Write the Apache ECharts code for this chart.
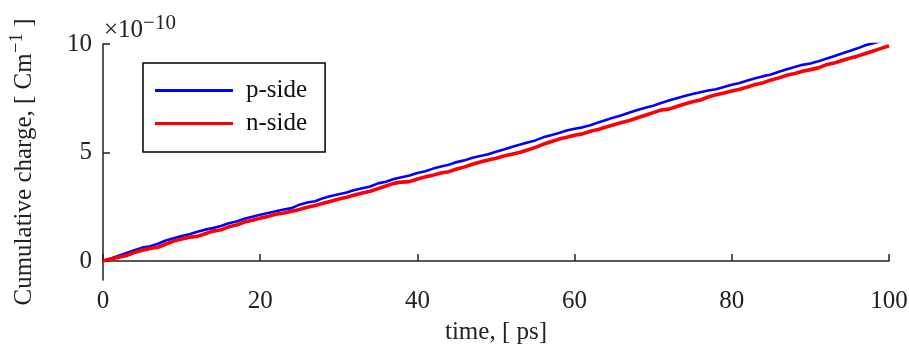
<!DOCTYPE html>
<html>
<head>
<meta charset="utf-8">
<script src="https://cdn.jsdelivr.net/npm/echarts@6/dist/echarts.min.js"></script>
<style>
html,body{margin:0;padding:0;background:#fff;}
#chart{width:909px;height:354px;}
</style>
</head>
<body>
<div id="chart"></div>
<script>
// time in ps
var times = [0,1,2,3,4,5,6,7,8,9,10,11,12,13,14,15,16,17,18,19,20,21,22,23,24,25,26,27,28,29,30,31,32,33,34,35,36,37,38,39,40,41,42,43,44,45,46,47,48,49,50,51,52,53,54,55,56,57,58,59,60,61,62,63,64,65,66,67,68,69,70,71,72,73,74,75,76,77,78,79,80,81,82,83,84,85,86,87,88,89,90,91,92,93,94,95,96,97,98,99,100];
// cumulative charge, units of 1e-10 C/m
var pSide = [0.02,0.12,0.25,0.38,0.50,0.62,0.68,0.80,0.95,1.05,1.16,1.24,1.35,1.45,1.52,1.62,1.74,1.82,1.95,2.04,2.14,2.22,2.30,2.38,2.44,2.60,2.70,2.76,2.90,3.00,3.08,3.16,3.28,3.36,3.44,3.58,3.66,3.78,3.86,3.94,4.06,4.14,4.26,4.36,4.44,4.56,4.64,4.76,4.84,4.92,5.04,5.14,5.26,5.36,5.46,5.56,5.70,5.80,5.90,6.02,6.10,6.16,6.26,6.38,6.50,6.62,6.72,6.84,6.96,7.06,7.16,7.28,7.40,7.50,7.60,7.70,7.78,7.86,7.92,8.02,8.12,8.20,8.32,8.42,8.52,8.60,8.72,8.84,8.94,9.04,9.10,9.20,9.32,9.44,9.56,9.68,9.80,9.94,10.04,10.14,10.24];
var nSide = [0.00,0.10,0.18,0.26,0.40,0.50,0.58,0.64,0.78,0.92,1.02,1.10,1.14,1.26,1.38,1.44,1.58,1.66,1.80,1.88,1.98,2.06,2.16,2.22,2.30,2.38,2.48,2.56,2.66,2.76,2.86,2.94,3.04,3.14,3.22,3.34,3.46,3.58,3.64,3.66,3.78,3.88,3.96,4.06,4.12,4.24,4.34,4.46,4.56,4.66,4.74,4.84,4.92,5.00,5.12,5.24,5.38,5.50,5.62,5.70,5.80,5.86,5.98,6.06,6.18,6.28,6.38,6.48,6.60,6.72,6.84,6.96,7.00,7.12,7.24,7.34,7.42,7.56,7.66,7.74,7.84,7.92,8.02,8.14,8.22,8.34,8.44,8.56,8.64,8.74,8.82,8.90,9.04,9.12,9.24,9.34,9.44,9.56,9.68,9.80,9.92];
var yTicks = [0,5,10];
var xTicks = [0,20,40,60,80,100];
var seriesNames = ['p-side','n-side'];

var font = '"Liberation Serif", "DejaVu Serif", serif';
var FS = 25;
var chart = echarts.init(document.getElementById('chart'), null, {renderer:'canvas'});
function pairs(xs, ys){ return xs.map(function(x,i){ return [x, ys[i]]; }); }

chart.setOption({
  animation:false,
  backgroundColor:'#fff',
  grid:{left:103, right:20, top:44, bottom:74, containLabel:false, outerBoundsMode:'none'},
  legend:{
    orient:'vertical', left:143, top:63,
    data:seriesNames,
    icon:'rect', itemWidth:78, itemHeight:3, itemGap:8,
    padding:[15,18,16,12],
    borderColor:'#000', borderWidth:1.5, backgroundColor:'#fff',
    textStyle:{fontFamily:font, fontSize:FS, color:'#111', padding:[0,0,0,8]}
  },
  xAxis:{
    type:'value', min:0, max:100, interval:20,
    axisLine:{lineStyle:{color:'#222', width:1.5}},
    axisTick:{inside:true, length:7, lineStyle:{color:'#222', width:1.5}},
    axisLabel:{fontFamily:font, fontSize:FS, color:'#222', margin:9, customValues:xTicks},
    splitLine:{show:false},
    name:'time, [ ps]', nameLocation:'middle', nameGap:40,
    nameTextStyle:{fontFamily:font, fontSize:FS, color:'#222'}
  },
  yAxis:{
    type:'value', min:-0.87, max:10,
    axisLine:{show:true, lineStyle:{color:'#222', width:1.5}},
    axisTick:{show:true, inside:true, length:7, customValues:yTicks, lineStyle:{color:'#222', width:1.5}},
    axisLabel:{fontFamily:font, fontSize:FS, color:'#222', margin:11, customValues:yTicks},
    splitLine:{show:false},
    name:'{a|Cumulative charge, [ Cm}{s|−1}{a| ]}', nameLocation:'middle', nameGap:62, nameRotate:90,
    nameTextStyle:{fontFamily:font, fontSize:FS, color:'#222',
      rich:{a:{fontFamily:font, fontSize:FS, color:'#222'}, s:{fontFamily:font, fontSize:19, color:'#222', padding:[0,0,14,0]}}}
  },
  graphic:[{
    type:'text', left:104, top:13,
    style:{text:'{a|×10}{s|−10}', fill:'#222',
      rich:{a:{fontFamily:font, fontSize:FS, fill:'#222'}, s:{fontFamily:font, fontSize:21, fill:'#222', padding:[0,0,14,0]}}}
  }],
  series:[
    {name:seriesNames[0], type:'line', data:pairs(times,pSide), showSymbol:false, clip:true,
     lineStyle:{color:'#0000ff', width:2.6}, itemStyle:{color:'#0000ff'}},
    {name:seriesNames[1], type:'line', data:pairs(times,nSide), showSymbol:false, clip:true,
     lineStyle:{color:'#ff0000', width:3.6}, itemStyle:{color:'#ff0000'}}
  ]
});
</script>
</body>
</html>
